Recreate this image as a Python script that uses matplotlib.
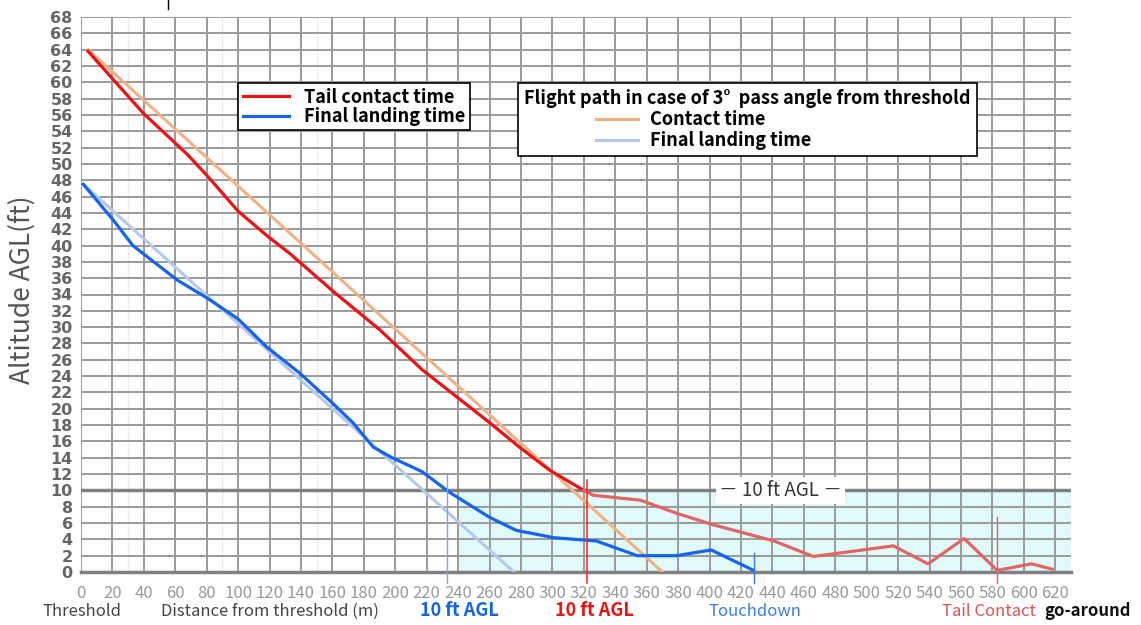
import matplotlib
matplotlib.use("Agg")
import numpy as np
import matplotlib.pyplot as plt
from matplotlib.lines import Line2D
from matplotlib.legend_handler import HandlerLine2D

# ---- data ----
tail_x = [4.5, 21.6, 39.7, 68, 81, 100, 119, 133, 161, 190, 217, 260, 279, 298, 320,
          326, 356, 379, 402, 441, 466, 517, 539, 562, 583, 605, 618]
tail_y = [63.8, 60.1, 56.2, 51.1, 48.4, 44.2, 41.1, 39.0, 34.3, 29.7, 24.8, 18.3, 15.3, 12.5, 10.0,
          9.4, 8.8, 7.2, 5.8, 3.8, 1.9, 3.2, 1.0, 4.1, 0.2, 1.0, 0.35]
final_x = [1.5, 20.6, 33, 61, 80, 100, 118, 139, 160, 173, 186, 198, 217, 235, 260, 277,
           301, 328, 354, 379, 401, 428]
final_y = [47.5, 43.1, 40, 35.8, 33.6, 31, 27.6, 24.4, 20.7, 18.3, 15.3, 14.0, 12.3, 9.7,
           6.7, 5.1, 4.2, 3.8, 2.0, 2.0, 2.7, 0.2]
path_contact_x = [4.5, 370]
path_contact_y = [64, 0]
path_final_x = [1.5, 275.5]
path_final_y = [47.5, 0]
split_idx = 14  # index of the 10 ft point on the tail contact series

x_ticks = list(range(0, 621, 20))
y_ticks = list(range(0, 69, 2))
faint_x = [30, 90, 150]
shade_x = [239, 630]
markers = {"blue10": (233, 12.0), "red10": (322, 11.3), "touch": (428, 2.3), "tail": (583, 6.7)}

JP = ["Noto Sans CJK JP", "DejaVu Sans"]


class IndentedLine(HandlerLine2D):
    """Legend handle whose line occupies only the right part of the handle box."""
    def __init__(self, frac=0.63, **kw):
        super().__init__(**kw)
        self.frac = frac

    def get_xdata(self, legend, xdescent, ydescent, width, height, fontsize):
        xd = np.array([-xdescent + width * self.frac, -xdescent + width])
        return xd, xd


W, H = 1141, 625
fig = plt.figure(figsize=(W / 100, H / 100), dpi=100)
L, R, B, T = 81, 1071, 572, 17
ax = fig.add_axes([L / W, 1 - B / H, (R - L) / W, (B - T) / H])

ax.set_xlim(0, 630)
ax.set_ylim(0, 68)
ax.set_xticks(x_ticks)
ax.set_yticks(y_ticks)
ax.grid(True, color="#9a9a9a", lw=1.4)
ax.set_axisbelow(True)
ax.tick_params(length=0)
for s in ["left", "top", "right"]:
    ax.spines[s].set_visible(False)
ax.spines["bottom"].set_color("#808080")
ax.spines["bottom"].set_linewidth(2.5)
for fx in faint_x:
    ax.axvline(fx, color="#ececec", lw=1, zorder=0.3)

ax.fill_between(shade_x, 0, 10, color="#dffaf8", zorder=0.2, lw=0)
ax.axhline(10, color="#808080", lw=2.5, zorder=1)

ax.tick_params(axis="y", labelsize=11.5, labelcolor="#666666", pad=6)
ax.tick_params(axis="x", labelsize=12, labelcolor="#9a9a9a", pad=9)
for lab in ax.get_yticklabels():
    lab.set_fontweight("bold")
    lab.set_family(["Liberation Sans Narrow", "DejaVu Sans"])
for lab in ax.get_xticklabels():
    lab.set_family(JP)

fig.text(22 / W, 1 - 290 / H, "Altitude AGL(ft)", rotation=90, ha="center", va="center",
         fontsize=19, color="#555555", family=JP)

# lines
l_pc, = ax.plot(path_contact_x, path_contact_y, color="#f2b084", lw=2.2, zorder=3)
l_pf, = ax.plot(path_final_x, path_final_y, color="#b6c8e8", lw=2.2, zorder=3)
l_tail, = ax.plot(tail_x[:split_idx + 1], tail_y[:split_idx + 1], color="#ee1111", lw=2.3, zorder=4)
ax.plot(tail_x[split_idx:], tail_y[split_idx:], color="#e26464", lw=2.3, zorder=4)
l_fin, = ax.plot(final_x, final_y, color="#1464f0", lw=2.3, zorder=4)

# vertical markers
ax.plot([markers["blue10"][0]] * 2, [markers["blue10"][1], -1.3], color="#7aa4ec", lw=1, clip_on=False, zorder=5)
ax.plot([markers["red10"][0]] * 2, [markers["red10"][1], -1.3], color="#ff2020", lw=1.1, clip_on=False, zorder=5)
ax.plot([markers["touch"][0]] * 2, [markers["touch"][1], -1.3], color="#3a7be8", lw=1, clip_on=False, zorder=5)
ax.plot([markers["tail"][0]] * 2, [markers["tail"][1], -1.3], color="#e06060", lw=1, clip_on=False, zorder=5)

# 10 ft label
ax.text(445, 10, "－ 10 ft AGL －", ha="center", va="center", fontsize=13.5, color="#333333",
        family=JP, zorder=6, bbox=dict(facecolor="white", edgecolor="none", pad=2))

# legends
fp = dict(family=JP, size=13, weight="bold")
leg1 = ax.legend([l_tail, l_fin], ["Tail contact time", "Final landing time"],
                 loc="upper left", bbox_to_anchor=(0.1586, 0.881), frameon=True,
                 fancybox=False, edgecolor="black", framealpha=1, prop=fp,
                 handlelength=2.6, borderpad=0.25, labelspacing=0.02, handletextpad=0.8,
                 borderaxespad=0)
leg1.get_frame().set_linewidth(1.2)
ax.add_artist(leg1)
leg2 = ax.legend([l_pc, l_pf], ["Contact time", "Final landing time"],
                 title="Flight path in case of 3°  pass angle from threshold",
                 title_fontproperties=fp,
                 loc="upper left", bbox_to_anchor=(0.441, 0.881), frameon=True,
                 fancybox=False, edgecolor="black", framealpha=1, prop=fp,
                 handlelength=6.3, borderpad=0.35, labelspacing=0.1, handletextpad=0.7,
                 borderaxespad=0, alignment="left",
                 handler_map={Line2D: IndentedLine(frac=0.63)})
leg2.get_frame().set_linewidth(1.2)

# bottom annotations
yb = 1 - 611 / H
def ftxt(xpx, s, color, weight="normal", size=12):
    fig.text(xpx / W, yb, s, ha="center", va="center", fontsize=size, color=color,
             fontweight=weight, family=JP)
ftxt(82, "Threshold", "#444444")
ftxt(270, "Distance from threshold (m)", "#444444")
ftxt(459, "10 ft AGL", "#1464f0", "bold", 13)
ftxt(594, "10 ft AGL", "#ee1111", "bold", 13)
ftxt(755, "Touchdown", "#3a7be8")
ftxt(989, "Tail Contact", "#e05050")
ftxt(1087, "go-around", "#111111", "bold")

fig.add_artist(Line2D([168 / W, 168 / W], [1.0, 1 - 9 / H], color="black", lw=1))

fig.savefig("out.png", dpi=100)
